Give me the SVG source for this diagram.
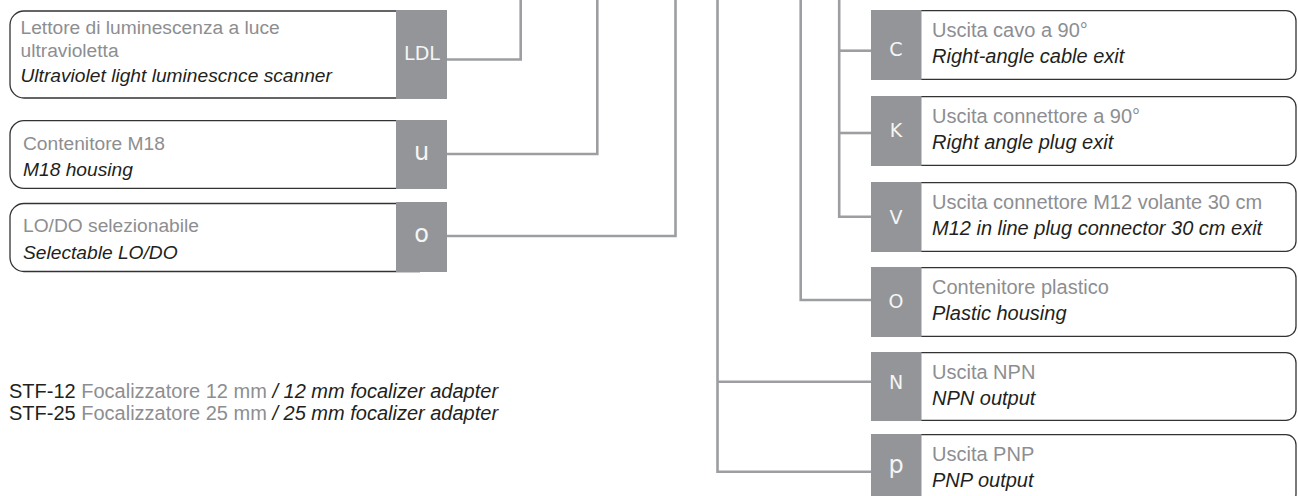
<svg xmlns="http://www.w3.org/2000/svg" width="1298" height="496" viewBox="0 0 1298 496">
<style>
.box{fill:#fff;stroke:#333;stroke-width:1.3}
.tag{fill:#939598}
.lbl{font-family:"DejaVu Sans",sans-serif;fill:#f5f5f5;text-anchor:middle}
.cap{font-size:19px}
.low{font-size:24px}
.it{font-family:"Liberation Sans",Arial,sans-serif;font-size:20px;fill:#8d8e91}
.en{font-family:"Liberation Sans",Arial,sans-serif;font-size:20px;font-style:italic;fill:#231f20}
.lt{font-size:19.2px}
.dk{fill:#231f20}
.conn{fill:none;stroke:#9d9ea1;stroke-width:2.6}
</style>
<rect width="1298" height="496" fill="#fff"/>
<g id="connectors">
<path class="conn" d="M447,59.5 H520.7 V0"/>
<path class="conn" d="M447,154 H597.3 V0"/>
<path class="conn" d="M447,236 H675.5 V0"/>
<path class="conn" d="M717.5,0 V471.7 H871"/>
<path class="conn" d="M717.5,381.7 H871"/>
<path class="conn" d="M800.7,0 V300 H871"/>
<path class="conn" d="M839.2,0 V216.7 H871"/>
<path class="conn" d="M839.2,50.7 H871"/>
<path class="conn" d="M839.2,133 H871"/>
</g>
<g id="node-LDL">
<path class="box" d="M420,11 H24 A14,14 0 0 0 10,25 V84 A14,14 0 0 0 24,98 H420"/>
<rect class="tag" x="396" y="10" width="51" height="89"/>
<text class="lbl cap" x="422" y="60" font-size="20">LDL</text>
<text class="it lt" x="20.5" y="33.5">Lettore di luminescenza a luce</text>
<text class="it lt" x="20.5" y="57">ultravioletta</text>
<text class="en lt" x="20.5" y="81.5">Ultraviolet light luminescnce scanner</text>
</g>
<g id="node-u">
<path class="box" d="M420,120.7 H24 A14,14 0 0 0 10,134.7 V174.3 A14,14 0 0 0 24,188.3 H420"/>
<rect class="tag" x="396" y="120" width="51" height="69"/>
<text class="lbl low" x="421.5" y="160">u</text>
<text class="it lt" x="23" y="150">Contenitore M18</text>
<text class="en lt" x="23" y="176">M18 housing</text>
</g>
<g id="node-o">
<path class="box" d="M420,203.5 H24 A14,14 0 0 0 10,217.5 V257.5 A14,14 0 0 0 24,271.5 H420"/>
<rect class="tag" x="396" y="202" width="51" height="70"/>
<text class="lbl low" x="421.5" y="241.7">o</text>
<text class="it lt" x="23" y="232">LO/DO selezionabile</text>
<text class="en lt" x="23" y="259">Selectable LO/DO</text>
</g>
<g id="node-C">
<path class="box" d="M900,10.7 H1286 A10,10 0 0 1 1296,20.7 V69.3 A10,10 0 0 1 1286,79.3 H900"/>
<rect class="tag" x="871" y="10" width="50.5" height="70"/>
<text class="lbl cap" x="896" y="56">C</text>
<text class="it" x="932" y="36.5">Uscita cavo a 90°</text>
<text class="en" x="932" y="63.3">Right-angle cable exit</text>
</g>
<g id="node-K">
<path class="box" d="M900,96.7 H1286 A10,10 0 0 1 1296,106.7 V155.3 A10,10 0 0 1 1286,165.3 H900"/>
<rect class="tag" x="871" y="96" width="50.5" height="70"/>
<text class="lbl cap" x="896" y="137">K</text>
<text class="it" x="932" y="122.5">Uscita connettore a 90°</text>
<text class="en" x="932" y="149.3">Right angle plug exit</text>
</g>
<g id="node-V">
<path class="box" d="M900,182.7 H1286 A10,10 0 0 1 1296,192.7 V241.3 A10,10 0 0 1 1286,251.3 H900"/>
<rect class="tag" x="871" y="182" width="50.5" height="70"/>
<text class="lbl cap" x="896" y="223.5">V</text>
<text class="it" x="932" y="208.5">Uscita connettore M12 volante 30 cm</text>
<text class="en" x="932" y="235.3">M12 in line plug connector 30 cm exit</text>
</g>
<g id="node-O">
<path class="box" d="M900,267.7 H1286 A10,10 0 0 1 1296,277.7 V326.3 A10,10 0 0 1 1286,336.3 H900"/>
<rect class="tag" x="871" y="267" width="50.5" height="70"/>
<text class="lbl cap" x="896" y="307.5">O</text>
<text class="it" x="932" y="293.5">Contenitore plastico</text>
<text class="en" x="932" y="320.3">Plastic housing</text>
</g>
<g id="node-N">
<path class="box" d="M900,352.7 H1286 A10,10 0 0 1 1296,362.7 V410.3 A10,10 0 0 1 1286,420.3 H900"/>
<rect class="tag" x="871" y="352" width="50.5" height="69"/>
<text class="lbl cap" x="896" y="388.5">N</text>
<text class="it" x="932" y="378.5">Uscita NPN</text>
<text class="en" x="932" y="405.3">NPN output</text>
</g>
<g id="node-p">
<path class="box" d="M900,434.7 H1286 A10,10 0 0 1 1296,444.7 V494 A10,10 0 0 1 1286,504 H900"/>
<rect class="tag" x="871" y="434" width="50.5" height="70"/>
<text class="lbl low" x="896" y="472.7">p</text>
<text class="it" x="932" y="460.5">Uscita PNP</text>
<text class="en" x="932" y="487.3">PNP output</text>
</g>
<g id="accessories">
<text class="it" x="9" y="398"><tspan class="dk">STF-12</tspan> Focalizzatore 12 mm <tspan class="en">/ 12 mm focalizer adapter</tspan></text>
<text class="it" x="9" y="420"><tspan class="dk">STF-25</tspan> Focalizzatore 25 mm <tspan class="en">/ 25 mm focalizer adapter</tspan></text>
</g>
</svg>
